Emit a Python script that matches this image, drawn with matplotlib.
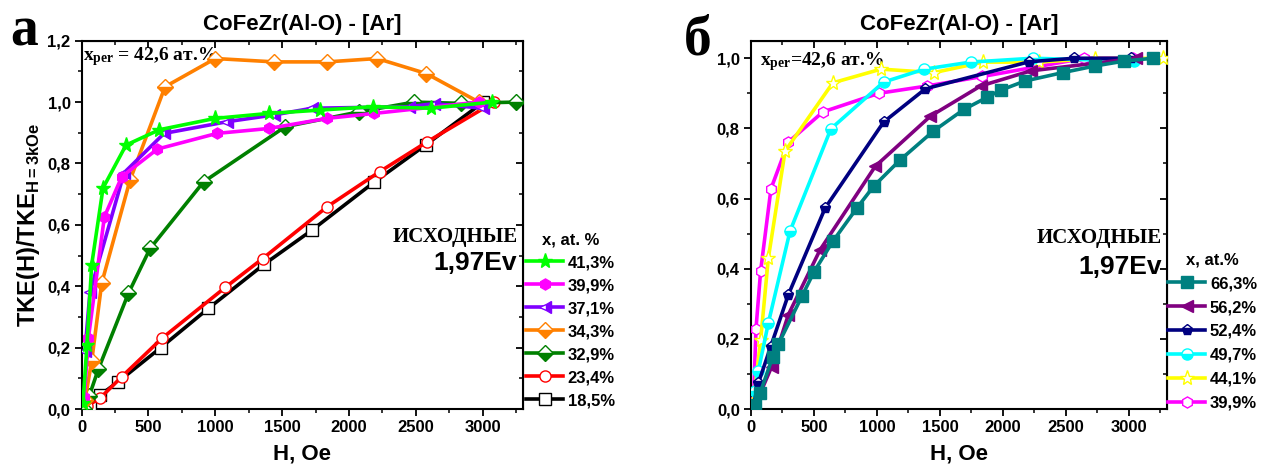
import matplotlib
matplotlib.use("Agg")
import matplotlib.pyplot as plt
from matplotlib.ticker import MultipleLocator

plt.rcParams['font.family'] = ['Liberation Sans', 'DejaVu Sans']
plt.rcParams['font.weight'] = 'bold'
plt.rcParams['mathtext.fontset'] = 'custom'
plt.rcParams['mathtext.bf'] = 'Liberation Serif:bold'
plt.rcParams['mathtext.sf'] = 'Liberation Sans:bold'

# ---- panel a: x = 41,3 ... 18,5 at.%
a_labels = ['41,3%', '39,9%', '37,1%', '34,3%', '32,9%', '23,4%', '18,5%']
a_H = [
    [10, 40, 75, 160, 332, 582, 1000, 1399, 1782, 2181, 2611, 3073],
    [20, 50, 170, 300, 567, 1012, 1399, 1837, 2186, 2973],
    [25, 62, 318, 617, 1087, 1436, 1724, 2449, 2636, 3000],
    [25, 75, 150, 362, 624, 1000, 1442, 1837, 2211, 2579, 2973],
    [15, 57, 125, 350, 512, 912, 1524, 2074, 2487, 2836, 3249],
    [40, 137, 300, 600, 1074, 1354, 1837, 2229, 2587, 3086],
    [30, 62, 137, 274, 592, 949, 1367, 1724, 2191, 2573, 3006],
]
a_val = [
    [0.02, 0.21, 0.47, 0.72, 0.86, 0.91, 0.947, 0.963, 0.974, 0.985, 0.98, 1.0],
    [0.04, 0.23, 0.626, 0.757, 0.847, 0.898, 0.914, 0.947, 0.963, 1.0],
    [0.19, 0.38, 0.77, 0.898, 0.936, 0.958, 0.98, 0.985, 0.995, 0.98],
    [0.03, 0.155, 0.41, 0.746, 1.05, 1.142, 1.131, 1.131, 1.142, 1.093, 1.0],
    [0.0, 0.043, 0.13, 0.377, 0.523, 0.74, 0.92, 0.968, 1.0, 0.996, 1.0],
    [0.01, 0.035, 0.105, 0.23, 0.396, 0.49, 0.659, 0.773, 0.871, 1.0],
    [0.0, 0.013, 0.045, 0.089, 0.2, 0.328, 0.472, 0.583, 0.74, 0.86, 1.0],
]
a_colors = ['#00ff00', '#ff00ff', '#8000ff', '#ff8000', '#008000', '#ff0000', '#000000']
a_markers = ['*', 'h', '<', 'D', 'D', 'o', 's']
a_fill = ['full', 'full', 'right', 'bottom', 'bottom', 'none', 'none']

# ---- panel б: x = 66,3 ... 39,9 at.%
b_labels = ['66,3%', '56,2%', '52,4%', '49,7%', '44,1%', '39,9%']
b_H = [
    [32, 72, 173, 218, 404, 502, 650, 841, 974, 1181, 1447, 1690, 1876, 1983,
     2174, 2474, 2731, 2964, 3190],
    [20, 165, 297, 549, 987, 1425, 1823, 2221, 3057],
    [20, 58, 157, 297, 589, 1053, 1385, 2208, 2566, 3018],
    [32, 58, 138, 310, 635, 1053, 1377, 1744, 2235, 3044],
    [20, 77, 138, 271, 650, 1033, 1451, 1845, 2283, 2731, 3270],
    [20, 40, 77, 159, 297, 571, 1014, 1399, 1837, 2646, 3031],
]
b_val = [
    [0.011, 0.045, 0.149, 0.185, 0.321, 0.392, 0.478, 0.573, 0.635, 0.709, 0.792,
     0.854, 0.889, 0.909, 0.935, 0.959, 0.978, 0.992, 1.0],
    [0.0, 0.121, 0.269, 0.454, 0.692, 0.835, 0.921, 0.964, 1.0],
    [0.01, 0.073, 0.178, 0.326, 0.573, 0.818, 0.913, 0.99, 1.0, 1.0],
    [0.05, 0.107, 0.245, 0.507, 0.799, 0.932, 0.969, 0.989, 1.0, 0.992],
    [0.02, 0.197, 0.43, 0.735, 0.93, 0.969, 0.959, 0.989, 0.989, 0.999, 1.0],
    [0.02, 0.229, 0.394, 0.628, 0.761, 0.847, 0.9, 0.921, 0.948, 1.0, 1.0],
]
b_colors = ['#008080', '#800080', '#000080', '#00ffff', '#ffff00', '#ff00ff']
b_markers = ['s', '<', 'p', 'o', '*', 'h']
b_fill = ['full', 'full', 'bottom', 'bottom', 'none', 'none']


def draw_series(ax, Hs, vals, colors, markers, fills, labels):
    handles = []
    n = len(Hs)
    for i in range(n):
        fs = fills[i]
        kw = dict(color=colors[i], lw=2.6, marker=markers[i], markersize=8,
                  markeredgecolor=colors[i], markeredgewidth=1.0,
                  solid_joinstyle='round', zorder=10 + n - i, label=labels[i])
        if fs == 'none':
            kw.update(markerfacecolor='white')
        elif fs != 'full':
            kw.update(fillstyle=fs, markerfacecoloralt='white')
        if markers[i] == '*':
            kw['markersize'] = 11
        line, = ax.plot(Hs[i], vals[i], **kw)
        handles.append(line)
    return handles


def style_axes(ax, ymax, yticks, ylabels):
    ax.set_xlim(0, 3300)
    ax.set_ylim(0, ymax)
    ax.set_xticks([0, 500, 1000, 1500, 2000, 2500, 3000])
    ax.set_xticklabels(['0', '500', '1000', '1500', '2000', '2500', '3000'])
    ax.set_yticks(yticks)
    ax.set_yticklabels(ylabels)
    ax.xaxis.set_minor_locator(MultipleLocator(250))
    ax.yaxis.set_minor_locator(MultipleLocator(0.1))
    ax.tick_params(which='major', direction='out', length=5, width=1.3,
                   labelsize=12, pad=3)
    ax.tick_params(which='minor', direction='out', length=3, width=1.1)
    for s in ax.spines.values():
        s.set_linewidth(1.5)
    # mirrored ticks pointing inward on top and right
    top = ax.secondary_xaxis('top')
    top.set_xticks(ax.get_xticks())
    top.xaxis.set_minor_locator(MultipleLocator(250))
    top.tick_params(which='major', direction='in', length=5, width=1.3,
                    labeltop=False)
    top.tick_params(which='minor', direction='in', length=3, width=1.1)
    right = ax.secondary_yaxis('right')
    right.set_yticks(yticks)
    right.yaxis.set_minor_locator(MultipleLocator(0.1))
    right.tick_params(which='major', direction='in', length=5, width=1.3,
                      labelright=False)
    right.tick_params(which='minor', direction='in', length=3, width=1.1)
    ax.set_xlabel('H, Oe', fontsize=16, fontweight='bold', labelpad=6)
    ax.set_title('CoFeZr(Al-O) - [Ar]', fontsize=16, fontweight='bold', pad=8)


fig = plt.figure(figsize=(12.64, 4.74), dpi=100)
ax1 = fig.add_axes([0.0646, 0.1371, 0.3489, 0.777])
ax2 = fig.add_axes([0.5941, 0.1371, 0.3289, 0.777])

h1 = draw_series(ax1, a_H, a_val, a_colors, a_markers, a_fill, a_labels)
style_axes(ax1, 1.2, [0, 0.2, 0.4, 0.6, 0.8, 1.0, 1.2],
           ['0,0', '0,2', '0,4', '0,6', '0,8', '1,0', '1,2'])
ax1.set_ylabel(r'TKE(H)/TKE$_{\mathsf{H=3kOe}}$', fontsize=17,
               fontweight='bold', labelpad=4)

h2 = draw_series(ax2, b_H, b_val, b_colors, b_markers, b_fill, b_labels)
style_axes(ax2, 1.05, [0, 0.2, 0.4, 0.6, 0.8, 1.0],
           ['0,0', '0,2', '0,4', '0,6', '0,8', '1,0'])

serif = ['Liberation Serif', 'DejaVu Serif']
ax1.text(0.004, 0.957, r'$\mathbf{x_{per}}$ = 42,6 ат.%', transform=ax1.transAxes,
         family=serif, fontsize=14, fontweight='bold', va='center', ha='left')
ax2.text(0.022, 0.943, r'$\mathbf{x_{per}}$=42,6 ат.%', transform=ax2.transAxes,
         family=serif, fontsize=14, fontweight='bold', va='center', ha='left')

for ax, y1, y2 in [(ax1, 0.466, 0.396), (ax2, 0.463, 0.386)]:
    ax.text(0.989, y1, 'ИСХОДНЫЕ', transform=ax.transAxes, family=serif,
            fontsize=15, fontweight='bold', ha='right', va='center')
    ax.text(0.988, y2, '1,97Ev', transform=ax.transAxes, fontsize=19,
            fontweight='bold', ha='right', va='center')

leg_kw = dict(loc='upper left', frameon=False, handlelength=2.2,
              handletextpad=0.3, borderpad=0, borderaxespad=0,
              prop={'size': 12, 'weight': 'bold'},
              title_fontproperties={'size': 12, 'weight': 'bold'})
ax1.legend(h1, a_labels, title='x, at. %', bbox_to_anchor=(1.008, 0.48),
           labelspacing=0.48, **leg_kw)
ax2.legend(h2, b_labels, title='x, at.%', bbox_to_anchor=(1.004, 0.425),
           labelspacing=0.53, **leg_kw)

fig.text(0.008, 0.905, 'а', family=serif, fontsize=40, fontweight='bold',
         ha='left', va='baseline')
fig.text(0.541, 0.885, 'б', family=serif, fontsize=40, fontweight='bold',
         ha='left', va='baseline')

fig.savefig('out.png', dpi=100)
